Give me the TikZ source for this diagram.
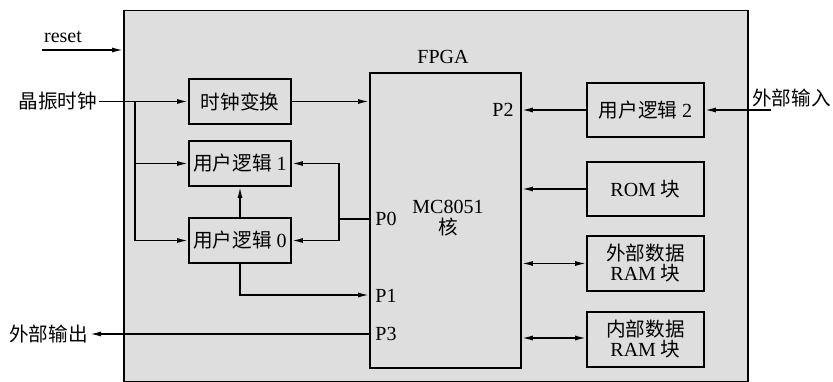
\documentclass[tikz,border=0pt]{standalone}
\usepackage{fontspec}
\setmainfont{Liberation Serif}
\newfontfamily\cjk[Scale=0.98]{Noto Sans CJK SC}
\usetikzlibrary{arrows.meta,positioning,calc}
\begin{document}
\begin{tikzpicture}[x=1pt,y=-1pt,
  every node/.style={font=\fontsize{20}{23}\selectfont, text=black},
  blk/.style={draw, line width=1.8pt, minimum width=102pt, minimum height=45pt, inner sep=0pt},
  rblk/.style={draw, line width=1.8pt, minimum width=117pt, minimum height=55pt, inner sep=0pt, align=center},
  conn/.style={line width=1.5pt},
  arr/.style={conn, -{Latex[length=11pt,width=5pt]}},
  darr/.style={conn, {Latex[length=11pt,width=5pt]}-{Latex[length=11pt,width=5pt]}},
  lbl/.style={inner sep=2pt}]
\useasboundingbox (0,0) rectangle (833,382);
% FPGA frame
\node[draw, line width=1.8pt, fill=black!13, minimum width=624pt, minimum height=371pt, inner sep=0pt] (fpga) at (436,196) {};
\node (fpgalbl) at (443,57) {FPGA};
% core
\node[draw, line width=1.8pt, minimum width=151pt, minimum height=295pt, inner sep=0pt] (mc) at (445.5,220.5) {};
\node[align=center] (mctext) at (448,218) {MC8051\\[-2pt]{\cjk 核}};
\node (p0) at (386,219) {P0};
\node (p1) at (386,296) {P1};
\node (p3) at (386,334) {P3};
\node (p2) at (503,110) {P2};
% left blocks
\node[blk] (clk) at (240,101.5) {\cjk 时钟变换};
\node[blk] (u1) at (240,163.5) {{\cjk 用户逻辑} 1};
\node[blk] (u0) at (240,240.5) {{\cjk 用户逻辑} 0};
% right blocks
\node[rblk, minimum height=54pt] (u2) at (645.5,110) {{\cjk 用户逻辑} 2};
\node[rblk, minimum height=54pt] (rom) at (645.5,189) {ROM {\cjk 块}};
\node[rblk] (exram) at (645.5,263.5) {{\cjk 外部数据}\\[-3pt]RAM {\cjk 块}};
\node[rblk] (inram) at (645.5,339.5) {{\cjk 内部数据}\\[-3pt]RAM {\cjk 块}};
% external labels
\node (reset) at (63,37) {reset};
\coordinate (rs) at (42,50);
\node[lbl, anchor=east] (xtal) at (99,101) {\cjk 晶振时钟};
\node[lbl, anchor=east] (xout) at (90,334) {\cjk 外部输出};
\node[lbl, anchor=west] (xin) at (750,98) {\cjk 外部输入};
\coordinate (xinend) at (771,110);
% connectors
\draw[arr] (rs) -- (rs -| fpga.west);
\draw[arr] (xtal.east |- clk.west) -- (clk.west);
\coordinate (br) at (135,101.5);
\draw[arr] (br) |- (u1.west);
\draw[arr] (br) |- (u0.west);
\draw[arr] (clk.east) -- (clk.east -| mc.west);
\draw[arr] (u0.north) -- (u1.south);
\coordinate (p0pt) at (mc.west |- 0,219);
\coordinate (pv) at (339,219);
\draw[conn] (p0pt) -- (pv);
\draw[arr] (pv) |- (u1.east);
\draw[arr] (pv) |- (u0.east);
\coordinate (p1pt) at (mc.west |- 0,295);
\draw[arr] (u0.south) |- (p1pt);
\coordinate (p3pt) at (mc.west |- 0,334);
\draw[arr] (p3pt) -- (xout.east);
\draw[arr] (xinend) -- (xinend -| u2.east);
\draw[arr] (u2.west) -- (u2.west -| mc.east);
\draw[arr] (rom.west) -- (rom.west -| mc.east);
\draw[darr] (mc.east |- exram.west) -- (exram.west);
\draw[darr] (mc.east |- 0,338) -- (inram.west |- 0,338);
\end{tikzpicture}
\end{document}
